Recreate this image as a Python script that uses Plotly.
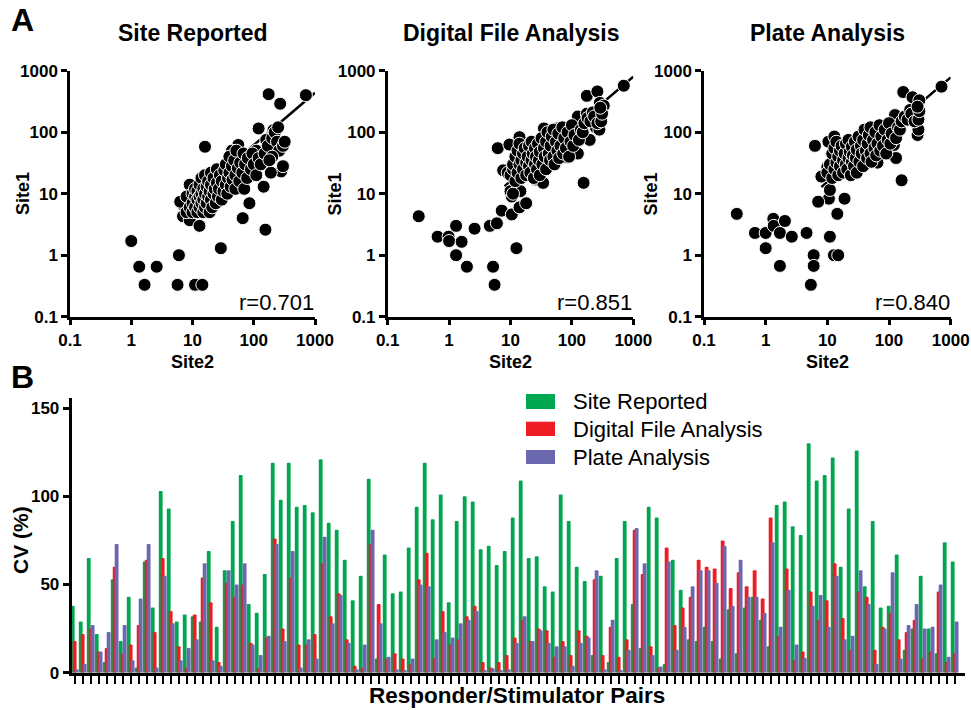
import math
import plotly.graph_objects as go

# ---------------- DATA ----------------
axis_vals = [0.1, 1, 10, 100, 1000]
axis_text = ["0.1", "1", "10", "100", "1000"]

panel_titles = ["Site Reported", "Digital File Analysis", "Plate Analysis"]
r_values = ["r=0.701", "r=0.851", "r=0.840"]

# Site Reported: Site2 (x) vs Site1 (y)
site_rep_x = [1.0, 1.35, 2.6, 1.65, 5.7, 6, 11, 14.5, 29, 66, 155, 175, 270, 710, 16, 9, 6.3, 7, 9, 13,
              85, 145, 280, 300, 190, 120, 300, 210, 160, 145, 110, 56, 44, 60,
              8, 8, 9, 10, 10, 10, 11, 11, 11, 12, 12, 12, 13, 13, 13, 14, 14, 14, 15, 15, 15, 16, 16, 16,
              17, 17, 18, 18, 19, 19, 20, 20, 20, 21, 22, 22, 23, 24, 25, 25, 26, 27, 28, 30, 30, 32, 33,
              35, 35, 37, 38, 40, 40, 42, 44, 45, 48, 50, 50, 52, 55, 58, 60, 65, 68, 70, 72, 78, 80, 90,
              95, 100, 110, 120, 130, 150, 170, 200, 220, 240, 250, 260, 300, 320, 200, 180]
site_rep_y = [1.7, 0.65, 0.65, 0.33, 0.33, 1.0, 0.33, 0.33, 1.3, 4, 2.6, 415, 290, 400, 58, 14, 7.4, 4.3, 3.7, 3,
              7, 13, 23, 28, 22, 115, 65, 108, 75, 50, 50, 62, 50, 40,
              5, 9, 6, 5, 7, 10, 6, 9, 12, 5, 8, 11, 6, 9, 14, 7, 10, 18, 5, 8, 12, 6, 10, 20,
              7, 13, 9, 16, 5, 11, 8, 14, 22, 6, 10, 18, 12, 7, 15, 25, 9, 12, 20, 8, 16, 11, 24,
              14, 30, 10, 18, 22, 40, 13, 28, 17, 35, 12, 20, 50, 26, 16, 32, 22, 45, 12, 30, 18, 38, 25,
              45, 30, 20, 38, 30, 45, 60, 80, 100, 70, 120, 50, 60, 70, 40, 35]

# Digital File Analysis
digital_x = [0.32, 0.65, 0.98, 1.0, 1.3, 1.6, 1.3, 1.95, 2.6, 4.6, 6, 5.2, 5.5, 12.5, 7.2, 10.5, 14, 18, 14.5,
             10.5, 10, 11, 6.2, 7.6, 9, 155, 700, 175, 260, 285, 270, 330, 125, 175, 245, 280, 195, 120,
             125, 80, 85, 9.6, 14, 21, 35, 57, 38, 35, 26, 34,
             10, 11, 11, 12, 12, 13, 13, 14, 14, 15, 15, 16, 16, 17, 18, 18, 19, 20, 20, 21, 22, 22, 23,
             24, 25, 25, 26, 27, 28, 29, 30, 30, 32, 33, 35, 36, 38, 38, 40, 42, 44, 45, 47, 50, 50, 52,
             55, 58, 60, 62, 65, 70, 72, 75, 80, 85, 90, 95, 100, 105, 110, 130, 140, 150, 160, 180, 200,
             220, 230, 260, 300, 310, 290]
digital_y = [4.3, 2.0, 2.0, 1.7, 3.0, 1.65, 1.0, 0.65, 2.7, 3.0, 3.3, 0.65, 0.33, 1.3, 5.3, 4.6, 6, 7, 11,
             9, 11, 10, 55, 24, 22, 15, 570, 390, 460, 300, 230, 270, 180, 200, 120, 110, 75, 80,
             45, 58, 39, 63, 83, 50, 115, 115, 68, 48, 17, 15,
             20, 25, 30, 16, 40, 22, 50, 30, 65, 18, 35, 25, 45, 55, 20, 32, 40, 28, 60, 22, 35, 70, 45,
             18, 30, 55, 40, 25, 65, 35, 48, 20, 80, 30, 55, 40, 25, 70, 100, 45, 35, 60, 85, 40, 110, 30,
             70, 50, 95, 38, 60, 120, 45, 80, 55, 100, 40, 70, 130, 60, 90, 75, 110, 100, 140, 170, 150,
             210, 180, 140, 150, 200, 250]

# Plate Analysis
plate_x = [0.34, 0.67, 1.0, 1.0, 1.33, 1.35, 1.7, 2.05, 2.65, 1.7, 4.6, 6, 6, 5.4, 11, 12.8, 15, 14.5, 19,
           10.6, 7.1, 8, 10, 11, 6.3, 10.4, 13, 160, 710, 170, 240, 310, 125, 290, 300, 130, 120, 120, 85,
           65, 80,
           10, 11, 12, 12, 13, 13, 14, 14, 15, 15, 16, 16, 17, 18, 18, 19, 20, 20, 21, 22, 22, 23, 24,
           25, 25, 26, 27, 28, 29, 30, 30, 32, 33, 35, 36, 38, 38, 40, 42, 44, 45, 47, 50, 50, 52, 55,
           58, 60, 62, 65, 70, 72, 75, 80, 85, 90, 95, 100, 105, 110, 130, 140, 150, 160, 180, 200,
           220, 230, 260, 300, 310, 290]
plate_y = [4.7, 2.3, 2.3, 1.3, 3.9, 3.0, 2.3, 3.6, 2.0, 0.67, 2.3, 1.0, 0.67, 0.33, 2.0, 1.0, 1.0, 4.7, 8.3,
           8.3, 7.4, 19, 27, 11.5, 60, 70, 85, 16.5, 550, 450, 370, 330, 190, 90, 110, 38, 62, 96, 45,
           32, 100,
           22, 30, 18, 45, 25, 55, 32, 70, 20, 40, 28, 50, 60, 22, 35, 45, 30, 65, 25, 38, 75, 48, 20,
           33, 58, 42, 28, 70, 38, 52, 22, 85, 33, 60, 45, 28, 75, 110, 50, 38, 65, 90, 45, 120, 33, 75,
           55, 100, 42, 65, 130, 50, 85, 60, 110, 45, 75, 140, 65, 95, 80, 120, 110, 150, 180, 160,
           230, 200, 150, 160, 220, 260]

# regression lines (log-log), drawn between start and end Site2 values
fit_start = [6, 8, 8]
fit_end = [1000, 1000, 1000]
fit_at_1000 = [437, 800, 780]
fit_slope = [0.85, 0.85, 0.85]

# Panel B: CV (%) per responder/stimulator pair
cv_site = [38, 29, 65, 22, 6, 53, 18, 43, 3, 63, 37, 103, 93, 29, 33, 32, 29, 69, 26, 58,
           86, 112, 39, 34, 56, 119, 98, 119, 94, 95, 91, 121, 85, 81, 64, 41, 55, 110, 8, 67,
           45, 46, 71, 94, 119, 87, 101, 40, 86, 100, 97, 70, 72, 61, 69, 88, 109, 65, 66, 49,
           46, 101, 86, 60, 52, 10, 55, 6, 65, 86, 39, 14, 94, 88, 5, 64, 47, 19, 18, 26,
           18, 8, 36, 11, 37, 43, 30, 15, 95, 97, 83, 78, 130, 109, 112, 122, 60, 93, 126, 49,
           86, 37, 38, 67, 13, 25, 55, 25, 11, 74, 63]
cv_digital = [18, 22, 25, 12, 14, 60, 11, 16, 27, 64, 23, 65, 35, 15, 3, 33, 54, 40, 6, 51,
              43, 50, 17, 2.5, 20, 76, 25, 54, 16, 16, 22, 62, 32, 45, 19, 4, 3, 73, 39, 8,
              11, 8, 5, 53, 68, 8.5, 35, 16, 19, 32, 38, 6, 3, 6, 10, 20, 30, 18, 25, 24,
              9, 18, 10, 24, 21, 53, 10, 26, 9, 19, 81, 56, 15, 3, 71, 27, 37, 43, 64, 60,
              59, 75, 48, 57, 49, 58, 42, 88, 21, 59, 7, 12, 46, 30, 41, 62, 31, 13, 46, 43,
              13, 26, 34, 19, 23, 30, 8, 12, 46, 6, 11]
cv_plate = [2, 5, 27, 12, 23, 73, 27, 7, 42, 73, 3, 55, 28, 7, 14, 19, 62, 7, 4, 58,
            50, 62, 16, 10, 21, 73, 18, 69, 3, 19, 8, 77, 28, 44, 17, 2, 16, 81, 28, 9,
            2, 1.5, 8, 50, 49, 19, 23, 20, 28, 30, 35, 1.5, 2.5, 1.5, 2, 17, 32, 18, 24, 17,
            15, 15, 4, 17, 20, 58, 2, 30, 1.5, 13, 82, 62, 10, 3.5, 63, 13, 26, 49, 58, 58,
            51, 72, 38, 64, 43, 43, 34, 74, 26, 47, 16, 8.5, 38, 44, 26, 55, 19, 21, 58, 39,
            5, 25, 57, 8, 27, 39, 25, 26, 50, 9, 29]
pairs = list(range(len(cv_site)))
series_names = ["Site Reported", "Digital File Analysis", "Plate Analysis"]
series_colors = ["#00a650", "#ee1c25", "#6c68b0"]

# ---------------- FIGURE ----------------
W, H = 971, 710
FONT = "Arial, 'Liberation Sans', Helvetica, sans-serif"


def px(x):
    return x / W


def py(y):
    return 1 - y / H


fig = go.Figure()

scatter_sets = [(site_rep_x, site_rep_y), (digital_x, digital_y), (plate_x, plate_y)]
x_domains_px = [(70, 315), (387.7, 633.3), (704, 950.7)]
y_dom = [py(316.7), py(70.7)]
ytitle_x = [23, 334.5, 650.5]

annotations = []
for i in range(3):
    xa = "x" if i == 0 else f"x{i+1}"
    ya = "y" if i == 0 else f"y{i+1}"
    b = math.log10(fit_at_1000[i]) - fit_slope[i] * 3
    lx = [fit_start[i], fit_end[i]]
    ly = [10 ** (b + fit_slope[i] * math.log10(v)) for v in lx]
    fig.add_trace(go.Scatter(x=lx, y=ly, mode="lines", line=dict(color="black", width=2.5),
                             xaxis=xa, yaxis=ya, showlegend=False, hoverinfo="skip"))
    sx, sy = scatter_sets[i]
    fig.add_trace(go.Scatter(x=sx, y=sy, mode="markers",
                             marker=dict(size=13, color="black", line=dict(color="white", width=1)),
                             xaxis=xa, yaxis=ya, showlegend=False, cliponaxis=False))
    axcommon = dict(type="log", range=[-1, 3], showline=True, linecolor="black", linewidth=2.5,
                    ticks="outside", ticklen=6, tickwidth=2.5, tickcolor="black", automargin=False,
                    tickvals=axis_vals, ticktext=axis_text, showgrid=False, zeroline=False,
                    tickfont=dict(family=FONT, size=17, color="black", weight="bold"))
    x0, x1 = x_domains_px[i]
    fig.update_layout(**{
        ("xaxis" if i == 0 else f"xaxis{i+1}"): dict(axcommon, domain=[px(x0), px(x1)], anchor=ya),
        ("yaxis" if i == 0 else f"yaxis{i+1}"): dict(axcommon, domain=y_dom, anchor=xa),
    })
    cx = (x0 + x1) / 2
    annotations += [
        dict(text=panel_titles[i], x=px(cx), y=py(33), xref="paper", yref="paper", showarrow=False,
             xanchor="center", yanchor="middle",
             font=dict(family=FONT, size=23, color="black", weight="bold")),
        dict(text="Site2", x=px(cx), y=py(362), xref="paper", yref="paper", showarrow=False,
             xanchor="center", yanchor="middle",
             font=dict(family=FONT, size=18, color="black", weight="bold")),
        dict(text="Site1", x=px(ytitle_x[i]), y=py(194), xref="paper", yref="paper", showarrow=False,
             xanchor="center", yanchor="middle", textangle=-90,
             font=dict(family=FONT, size=18, color="black", weight="bold")),
        dict(text=r_values[i], x=px(x1 + 1), y=py(302), xref="paper", yref="paper", showarrow=False,
             xanchor="right", yanchor="middle",
             font=dict(family=FONT, size=22, color="black")),
    ]

# Panel B bars
offsets = [-0.49, -0.245, 0.0]
cv_sets = [cv_site, cv_digital, cv_plate]
for name, vals, col, off in zip(series_names, cv_sets, series_colors, offsets):
    fig.add_trace(go.Bar(x=pairs, y=vals, name=name, width=0.48, offset=off,
                         marker=dict(color=col, line=dict(width=0), cornerradius=2),
                         xaxis="x4", yaxis="y4", showlegend=False))

fig.update_layout(
    barmode="overlay",
    xaxis4=dict(domain=[px(71.7), px(965)], anchor="y4", range=[-0.375, 111.29], automargin=False,
                showline=True, linecolor="black", linewidth=3, ticks="outside", ticklen=8,
                tickwidth=2, tickcolor="black", tickvals=pairs, showticklabels=False,
                showgrid=False, zeroline=False),
    yaxis4=dict(domain=[py(672.7), py(398)], anchor="x4", range=[0, 155.7], automargin=False,
                showline=True, linecolor="black", linewidth=3, ticks="outside", ticklen=6,
                tickwidth=3, tickcolor="black", tickvals=[0, 50, 100, 150],
                ticktext=["0", "50", "100", "150"], showgrid=False, zeroline=False,
                tickfont=dict(family=FONT, size=17, color="black", weight="bold")),
)

# custom legend for panel B
shapes = []
leg_rows = [(394, 409, 401.5), (421.7, 436, 429), (450, 464, 457)]
for (t, bt, cy), name, col in zip(leg_rows, series_names, series_colors):
    shapes.append(dict(type="rect", xref="paper", yref="paper", x0=px(526), x1=px(555),
                       y0=py(bt), y1=py(t), fillcolor=col, line=dict(width=0)))
    annotations.append(dict(text=name, x=px(571), y=py(cy), xref="paper", yref="paper",
                            showarrow=False, xanchor="left", yanchor="middle",
                            font=dict(family=FONT, size=22, color="black")))

annotations += [
    dict(text="A", x=px(9), y=py(20), xref="paper", yref="paper", showarrow=False,
         xanchor="left", yanchor="middle", font=dict(family=FONT, size=32, color="black", weight="bold")),
    dict(text="B", x=px(9), y=py(377), xref="paper", yref="paper", showarrow=False,
         xanchor="left", yanchor="middle", font=dict(family=FONT, size=32, color="black", weight="bold")),
    dict(text="CV (%)", x=px(20), y=py(540), xref="paper", yref="paper", showarrow=False,
         xanchor="center", yanchor="middle", textangle=-90,
         font=dict(family=FONT, size=21, color="black", weight="bold")),
    dict(text="Responder/Stimulator Pairs", x=px(517), y=py(695), xref="paper", yref="paper",
         showarrow=False, xanchor="center", yanchor="middle",
         font=dict(family=FONT, size=22.5, color="black", weight="bold")),
]

fig.update_layout(
    width=W, height=H, margin=dict(l=0, r=0, t=0, b=0, autoexpand=False),
    paper_bgcolor="white", plot_bgcolor="white",
    annotations=annotations, shapes=shapes, showlegend=False,
)

fig.write_html("out.html", config={"displayModeBar": False},
               post_script="document.body.style.margin='0px';document.body.style.overflow='hidden';")
